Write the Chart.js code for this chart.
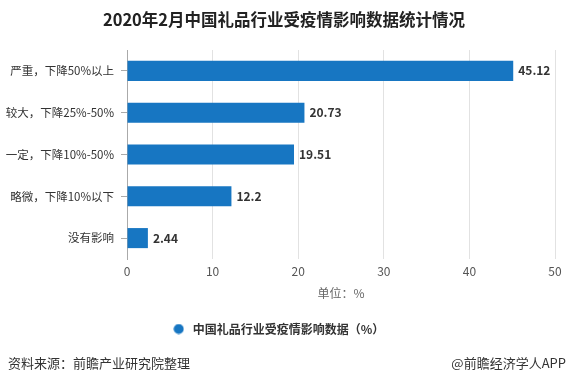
<!DOCTYPE html>
<html><head><meta charset="utf-8">
<script src="https://cdn.jsdelivr.net/npm/chart.js@4"></script>
<style>html,body{margin:0;padding:0;background:#fff;}</style>
</head><body>
<canvas id="c" width="568" height="383"></canvas>
<script>
const titleText = '2020年2月中国礼品行业受疫情影响数据统计情况';
const categories = ['严重，下降50%以上', '较大，下降25%-50%', '一定，下降10%-50%', '略微，下降10%以下', '没有影响'];
const values = [45.12, 20.73, 19.51, 12.2, 2.44];
const seriesName = '中国礼品行业受疫情影响数据（%）';
const unitLabel = '单位：%';
const sourceText = '资料来源：前瞻产业研究院整理';
const creditText = '@前瞻经济学人APP';
const xMin = 0, xMax = 50, xStep = 10;

const FONT = '"Microsoft YaHei","Noto Sans CJK SC","Noto Sans",sans-serif';
const BLUE = '#1776c2';

Chart.defaults.font.family = FONT;

const dot = document.createElement('canvas');
dot.width = 11; dot.height = 11;
(function(){ const g = dot.getContext('2d'); g.fillStyle = BLUE; g.beginPath(); g.arc(5.5,5.5,5,0,Math.PI*2); g.fill(); })();

const decor = {
  id: 'decor',
  afterDatasetsDraw(chart) {
    const ctx = chart.ctx, meta = chart.getDatasetMeta(0);
    ctx.save();
    ctx.font = 'bold 12px ' + FONT; ctx.fillStyle = '#333';
    ctx.textAlign = 'left'; ctx.textBaseline = 'middle';
    meta.data.forEach((bar, i) => ctx.fillText(String(values[i]), bar.x + 5, bar.y));
    ctx.restore();
  },
  afterDraw(chart) {
    const ctx = chart.ctx;
    ctx.save();
    ctx.font = 'bold 16.5px ' + FONT; ctx.fillStyle = '#222';
    ctx.textAlign = 'center'; ctx.textBaseline = 'middle';
    ctx.fillText(titleText, 284, 20);
    ctx.font = '13px ' + FONT; ctx.fillStyle = '#333';
    ctx.textAlign = 'left'; ctx.fillText(sourceText, 8, 363);
    ctx.textAlign = 'right'; ctx.fillText(creditText, 566, 363);
    ctx.restore();
  }
};

new Chart(document.getElementById('c'), {
  type: 'bar',
  data: {
    labels: categories,
    datasets: [{
      label: seriesName,
      data: values,
      backgroundColor: BLUE,
      borderWidth: 0,
      barPercentage: 0.6,
      categoryPercentage: 0.8
    }]
  },
  options: {
    indexAxis: 'y',
    responsive: false,
    animation: false,
    layout: { padding: { top: 50, right: 13, left: 0, bottom: 38 } },
    plugins: {
      title: { display: false },
      tooltip: { enabled: false },
      legend: {
        position: 'bottom',
        labels: {
          usePointStyle: true,
          pointStyle: dot,
          pointStyleWidth: 16,
          boxHeight: 12,
          padding: 10,
          color: '#333',
          font: { size: 12, weight: 'bold' }
        }
      }
    },
    scales: {
      x: {
        type: 'linear', min: xMin, max: xMax,
        ticks: { stepSize: xStep, color: '#555', font: { size: 12 }, padding: 5 },
        grid: { color: '#e2e2e2', drawTicks: false },
        border: { display: false },
        title: { display: true, text: unitLabel, color: '#666', font: { size: 12 }, padding: { top: 8, bottom: 12 } },
        afterFit(s) { s.height = 54; }
      },
      y: {
        ticks: { color: '#333', font: { size: 11.5 }, padding: 7 },
        grid: { drawOnChartArea: false, drawTicks: true, tickLength: 6, offset: false, color: '#aaa' },
        border: { color: '#aaa' },
        afterFit(s) { s.width = 127; }
      }
    }
  },
  plugins: [decor]
});
</script>
</body></html>
